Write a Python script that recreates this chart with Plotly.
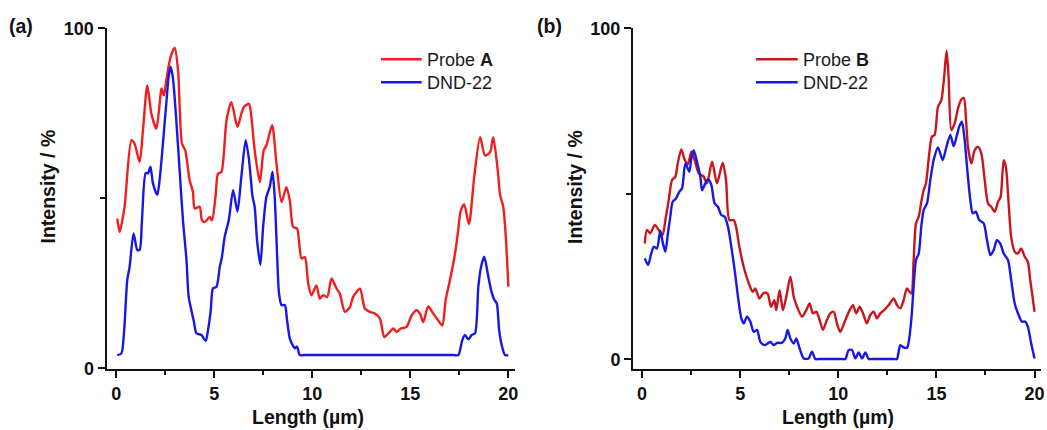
import plotly.graph_objects as go

# ---------------- data ----------------
# Panel (a): Probe A vs DND-22 intensity profile along a 20 µm line
a_probe_x = [0.05, 0.17, 0.42, 0.77, 0.93, 1.19, 1.36, 1.58, 1.79, 2.04, 2.21, 2.30, 2.43, 2.55, 2.77,
             2.98, 3.15, 3.35, 3.52, 3.74, 3.91, 4.00, 4.25, 4.37, 4.51, 4.77, 4.88, 5.06, 5.19, 5.36,
             5.62, 5.87, 6.18, 6.38, 6.52, 6.77, 6.89, 7.06, 7.32, 7.52, 7.66, 7.95, 8.17, 8.43, 8.68,
             8.85, 9.02, 9.22, 9.45, 9.62, 9.79, 9.96, 10.21, 10.38, 10.55, 10.76, 10.98, 11.24, 11.40,
             11.66, 11.92, 12.08, 12.43, 12.68, 12.94, 13.19, 13.45, 13.67, 13.87, 14.13, 14.30, 14.52,
             14.81, 15.07, 15.32, 15.49, 15.66, 15.91, 16.17, 16.42, 16.63, 16.80, 17.02, 17.28, 17.42,
             17.58, 17.75, 17.99, 18.26, 18.56, 18.81, 19.07, 19.23, 19.46, 19.58, 19.74, 19.87, 20.00]
a_probe_y = [44.0, 40.1, 47.5, 67.1, 66.1, 60.7, 70.0, 83.2, 74.9, 70.5, 77.8, 82.3, 80.3, 84.7, 91.6,
             94.3, 87.6, 66.1, 64.1, 55.3, 51.9, 47.0, 47.5, 43.5, 43.0, 44.5, 43.5, 50.4, 57.3, 57.7,
             72.9, 78.3, 71.0, 74.9, 76.9, 77.8, 73.9, 64.1, 54.8, 64.1, 65.6, 71.5, 60.2, 48.9, 53.3,
             49.4, 41.6, 41.1, 32.3, 32.7, 24.9, 21.5, 24.4, 20.5, 21.5, 21.0, 26.4, 23.4, 22.0,
             16.6, 18.0, 21.0, 23.4, 17.6, 16.6, 16.1, 14.6, 9.2, 10.2, 11.7, 10.7, 11.7,
             12.2, 15.6, 17.1, 16.1, 13.6, 18.2, 16.1, 14.1, 12.6, 20.0, 25.9, 33.7, 39.6,
             46.5, 48.2, 42.4, 56.3, 68.0, 62.6, 63.6, 68.0, 58.2, 51.0, 47.5, 38.7, 24.0]

a_dnd_x = [0.05, 0.26, 0.39, 0.56, 0.68, 0.88, 1.07, 1.19, 1.31, 1.50, 1.62, 1.74, 1.87, 2.09, 2.21,
           2.38, 2.55, 2.67, 2.77, 2.89, 3.06, 3.23, 3.40, 3.58, 3.69, 3.83, 3.96, 4.09, 4.34, 4.56,
           4.68, 4.82, 4.93, 5.11, 5.28, 5.39, 5.53, 5.74, 5.96, 6.18, 6.38, 6.60, 6.77, 6.95, 7.06,
           7.18, 7.35, 7.49, 7.66, 7.83, 7.97, 8.08, 8.20, 8.30, 8.43, 8.60, 8.71, 8.85, 8.99, 9.11,
           9.22, 9.36, 9.60, 17.20, 17.45, 17.65, 17.79, 17.96, 18.13, 18.30, 18.47, 18.61, 18.77,
           18.95, 19.12, 19.29, 19.41, 19.53, 19.66, 19.83, 20.00]
a_dnd_y = [3.9, 4.4, 10.3, 26.0, 29.9, 39.7, 34.8, 34.8, 43.6, 57.4, 57.4, 59.3, 54.4, 51.0, 55.4,
           66.2, 77.9, 85.8, 88.7, 85.3, 73.0, 58.3, 43.6, 31.9, 21.1, 17.1, 13.7, 10.3, 9.8, 8.1,
           11.3, 17.1, 23.5, 24.0, 29.9, 32.8, 38.7, 43.6, 52.4, 46.1, 56.4, 67.1, 61.3, 50.5, 47.5,
           37.7, 30.4, 41.6, 50.5, 53.4, 57.8, 50.5, 33.8, 22.1, 18.6, 18.6, 14.2, 8.8, 6.9, 5.9,
           6.4, 3.9, 3.9, 3.9, 3.9, 8.3, 9.8, 8.5, 9.8, 10.3, 24.0, 29.9, 32.8,
           27.9, 23.0, 20.1, 19.1, 11.3, 6.9, 3.9, 3.9]

# Panel (b): Probe B vs DND-22
b_probe_x = [0.14, 0.25, 0.42, 0.65, 0.85, 1.05, 1.19, 1.36, 1.53, 1.70, 1.82, 2.00, 2.18, 2.34, 2.51,
             2.68, 2.89, 3.14, 3.31, 3.57, 3.82, 4.11, 4.28, 4.45, 4.67, 4.79, 4.96, 5.18, 5.44, 5.64,
             5.77, 5.98, 6.20, 6.40, 6.57, 6.74, 6.84, 7.01, 7.18, 7.35, 7.56, 7.73, 7.90, 8.15, 8.37,
             8.54, 8.71, 8.88, 9.05, 9.22, 9.42, 9.59, 9.77, 9.93, 10.10, 10.36, 10.58, 10.75, 10.92,
             11.09, 11.26, 11.46, 11.63, 11.80, 11.97, 12.14, 12.34, 12.57, 12.82, 12.99, 13.16, 13.33,
             13.50, 13.72, 13.84, 13.96, 14.10, 14.23, 14.35, 14.47, 14.60, 14.77, 14.91, 15.08, 15.25,
             15.38, 15.52, 15.62, 15.76, 15.93, 16.10, 16.27, 16.40, 16.51, 16.61, 16.78, 16.95, 17.12,
             17.29, 17.46, 17.63, 17.79, 17.97, 18.14, 18.27, 18.43, 18.54, 18.68, 18.81, 18.99, 19.15,
             19.32, 19.50, 19.66, 19.78, 19.90, 20.00]
b_probe_y = [35.0, 39.1, 38.1, 40.6, 39.1, 37.6, 42.1, 48.1, 54.2, 55.2, 59.2, 63.4, 60.2, 59.0, 62.7,
             60.2, 56.2, 55.2, 53.2, 59.7, 53.2, 59.4, 54.2, 42.1, 42.1, 40.1, 34.0, 28.0, 23.0, 20.4,
             21.4, 18.4, 20.1, 19.9, 15.9, 17.9, 14.9, 20.9, 14.9, 18.9, 25.0, 18.9, 15.9, 12.9, 14.9,
             16.9, 13.9, 14.4, 11.9, 8.9, 11.9, 13.9, 14.4, 10.9, 8.3, 11.9, 14.9, 16.4, 13.9,
             15.9, 13.9, 10.9, 13.4, 14.4, 12.4, 13.9, 14.9, 16.4, 18.4, 16.4, 15.4, 17.9,
             21.4, 19.9, 30.0, 41.1, 43.1, 47.6, 51.1, 53.2, 60.2, 67.3, 67.8, 76.3, 78.3,
             84.4, 93.2, 85.4, 69.3, 71.3, 75.8, 78.5, 78.9, 72.3, 64.2, 59.2, 63.2, 64.2,
             62.2, 54.2, 47.1, 46.1, 44.6, 47.6, 49.1, 60.2, 58.2, 47.1, 37.0, 32.5, 32.0,
             33.5, 31.0, 29.5, 24.0, 18.9, 14.4]

b_dnd_x = [0.14, 0.31, 0.47, 0.60, 0.76, 0.93, 1.05, 1.19, 1.32, 1.44, 1.56, 1.73, 1.90, 2.04, 2.21,
           2.41, 2.51, 2.63, 2.80, 2.97, 3.06, 3.19, 3.36, 3.53, 3.70, 3.87, 4.04, 4.21, 4.38, 4.55,
           4.72, 4.89, 5.06, 5.18, 5.35, 5.52, 5.69, 5.86, 6.03, 6.25, 6.40, 6.54, 6.71, 6.88, 7.13,
           7.30, 7.42, 7.56, 7.73, 7.86, 8.03, 8.24, 8.49, 8.66, 8.83, 9.00, 10.20, 10.36, 10.53,
           10.70, 10.87, 11.04, 11.21, 11.38, 11.55, 11.70, 12.85, 12.99, 13.16, 13.33, 13.50, 13.59,
           13.72, 13.84, 13.96, 14.10, 14.23, 14.35, 14.52, 14.69, 14.86, 15.08, 15.32, 15.49, 15.71,
           15.88, 16.05, 16.16, 16.30, 16.44, 16.56, 16.73, 16.85, 17.01, 17.18, 17.41, 17.58, 17.75,
           17.92, 18.08, 18.25, 18.43, 18.65, 18.81, 18.99, 19.19, 19.36, 19.53, 19.66, 19.83, 20.00]
b_dnd_y = [30.5, 28.5, 32.0, 34.0, 33.5, 38.9, 35.5, 32.5, 38.1, 43.1, 47.6, 48.6, 50.6, 51.7, 59.2,
           56.7, 60.7, 63.2, 59.7, 55.2, 51.1, 52.7, 54.4, 52.7, 47.1, 46.1, 43.6, 43.1, 40.1, 34.0,
           27.0, 18.9, 12.4, 10.9, 12.9, 11.4, 8.3, 8.9, 5.3, 4.3, 4.8, 5.3, 4.3, 5.0, 5.0,
           6.3, 8.9, 6.3, 4.8, 6.3, 3.3, 0.3, 0.3, 2.3, 0.1, 0.1, 0.1, 0.1, 2.8,
           2.8, 0.3, 2.1, 0.3, 2.1, 0.1, 0.1, 0.1, 0.1, 4.3, 3.6, 3.5, 5.3,
           11.9, 21.9, 30.0, 32.0, 40.1, 45.1, 47.1, 54.2, 60.2, 64.0, 60.2, 63.7, 67.8,
           64.4, 67.8, 70.3, 71.8, 66.3, 58.2, 48.1, 44.1, 44.6, 42.1, 41.1, 36.0, 31.5,
           33.0, 36.0, 35.0, 32.0, 30.0, 24.0, 16.9, 13.4, 11.4, 11.4, 9.9, 4.8, 0.3]

x_ticks = [0, 5, 10, 15, 20]
y_ticks = [0, 100]

RED_A = "#f21d1d"
RED_B = "#c8161c"
BLUE = "#1717e8"

# ---------------- figure ----------------
W, H = 1047, 430
FONT = "Arial, 'Liberation Sans', sans-serif"


def fx(px):
    return px / W


def fy(py):
    return 1 - py / H


fig = go.Figure()
line_kw = dict(mode="lines", line_shape="spline", showlegend=False, hoverinfo="skip")
fig.add_trace(go.Scatter(x=a_probe_x, y=a_probe_y, line=dict(color=RED_A, width=2.4, smoothing=0.7),
                         xaxis="x", yaxis="y", **line_kw))
fig.add_trace(go.Scatter(x=a_dnd_x, y=a_dnd_y, line=dict(color=BLUE, width=2.4, smoothing=0.7),
                         xaxis="x", yaxis="y", **line_kw))
fig.add_trace(go.Scatter(x=b_probe_x, y=b_probe_y, line=dict(color=RED_B, width=2.4, smoothing=0.7),
                         xaxis="x2", yaxis="y2", **line_kw))
fig.add_trace(go.Scatter(x=b_dnd_x, y=b_dnd_y, line=dict(color=BLUE, width=2.4, smoothing=0.7),
                         xaxis="x2", yaxis="y2", **line_kw))

tickfont = dict(family=FONT, size=18, color="#111", weight="bold")
common_x = dict(
    tickvals=x_ticks, ticktext=[str(v) for v in x_ticks],
    showline=True, linecolor="#111", linewidth=2,
    ticks="outside", ticklen=7, tickwidth=2, tickcolor="#111",
    minor=dict(ticks="outside", ticklen=4, tickwidth=2, tickcolor="#111", dtick=2.5, tick0=0),
    showgrid=False, zeroline=False, tickfont=tickfont, fixedrange=True, automargin=False,
)
common_y = dict(
    tickvals=y_ticks, ticktext=[str(v) for v in y_ticks],
    showline=True, linecolor="#111", linewidth=2,
    ticks="outside", ticklen=7, tickwidth=2, tickcolor="#111",
    minor=dict(ticks="outside", ticklen=5, tickwidth=2, tickcolor="#111", dtick=50, tick0=0),
    showgrid=False, zeroline=False, tickfont=tickfont, fixedrange=True, automargin=False,
)

fig.update_layout(
    template="none",
    width=W, height=H,
    margin=dict(l=0, r=0, t=0, b=0, pad=0, autoexpand=False),
    paper_bgcolor="white", plot_bgcolor="white",
    xaxis=dict(domain=[fx(106.5), fx(515)], range=[-0.5, 20.34], anchor="y", **common_x),
    yaxis=dict(domain=[fy(369), fy(28.3)], range=[-0.2, 100], anchor="x", **common_y),
    xaxis2=dict(domain=[fx(633), fx(1041)], range=[-0.46, 20.33], anchor="y2", **common_x),
    yaxis2=dict(domain=[fy(369), fy(28.3)], range=[-2.9, 100], anchor="x2", **common_y),
)

# axis titles and panel labels
title_font = dict(family=FONT, size=19.5, color="#111", weight="bold")
ann = []
for cx in [307.5, 838]:
    ann.append(dict(text="Length (µm)", x=fx(cx), y=fy(417), xref="paper", yref="paper",
                    showarrow=False, xanchor="center", yanchor="middle", font=title_font))
for cx in [47.5, 575]:
    ann.append(dict(text="Intensity / %", x=fx(cx), y=fy(187), xref="paper", yref="paper",
                    showarrow=False, textangle=-90, xanchor="center", yanchor="middle", font=title_font))
for cx, cy, lab in [(21.5, 26.5, "(a)"), (549.5, 26.5, "(b)")]:
    ann.append(dict(text=lab, x=fx(cx), y=fy(cy), xref="paper", yref="paper", showarrow=False,
                    xanchor="center", yanchor="middle", font=title_font))

# legends
leg_font = dict(family=FONT, size=18, color="#1a1a1a")
shapes = []
for (x0, x1, tx, red, name) in [(381, 421.7, 425, RED_A, "A"), (756, 797.7, 800.5, RED_B, "B")]:
    for py, col, txt in [(59.3, red, f"Probe <b>{name}</b>"), (82.3, BLUE, "DND-22")]:
        shapes.append(dict(type="line", xref="paper", yref="paper", x0=fx(x0), x1=fx(x1),
                           y0=fy(py), y1=fy(py), line=dict(color=col, width=2.4)))
        ann.append(dict(text=txt, x=fx(tx), y=fy(py + 0.5), xref="paper", yref="paper", showarrow=False,
                        xanchor="left", yanchor="middle", font=leg_font))

fig.update_layout(annotations=ann, shapes=shapes)
fig.write_html("out.html")
